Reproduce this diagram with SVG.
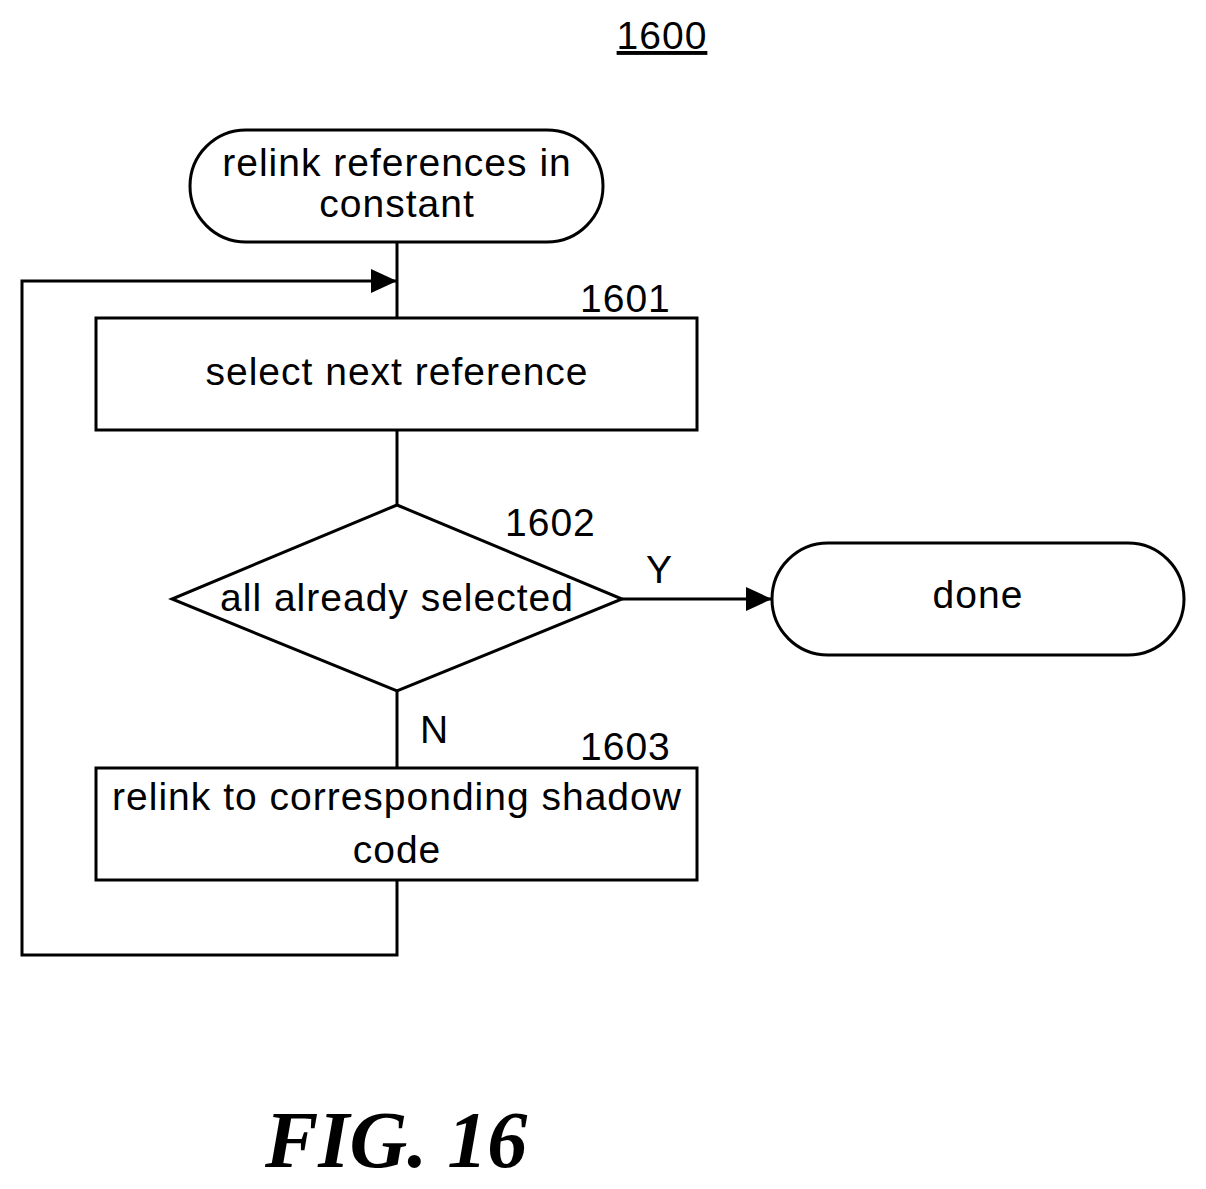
<svg xmlns="http://www.w3.org/2000/svg" width="1206" height="1189" viewBox="0 0 1206 1189">
<style>
.s{fill:#fff;stroke:#000;stroke-width:3}
.t{font-family:"Liberation Sans",Arial,sans-serif;font-size:39px;letter-spacing:1px;fill:#000}
.c{text-anchor:middle}
.l{fill:none;stroke:#000;stroke-width:3}
</style>
<defs><marker id="b" markerWidth="26" markerHeight="24" refX="26" refY="12" orient="auto" markerUnits="userSpaceOnUse"><path d="M0,0 L26,12 L0,24 z" fill="#000"/></marker></defs>
<rect width="1206" height="1189" fill="#fff"/>
<text class="t c" x="662" y="49" text-decoration="underline">1600</text>
<g id="connectors">
<path class="l" d="M397,242 V318"/>
<path class="l" d="M397,880 V955 H22 V281 H397" marker-end="url(#b)"/>
<path class="l" d="M397,430 V505"/>
<path class="l" d="M622,599 H772" marker-end="url(#b)"/>
<path class="l" d="M397,691 V768"/>
<text class="t" x="646" y="583">Y</text>
<text class="t" x="420" y="743">N</text>
</g>
<g id="start"><rect class="s" x="190" y="130" width="413" height="112" rx="56"/>
<text class="t c" x="397" y="176">relink references in</text><text class="t c" x="397" y="217">constant</text></g>
<g id="n1601"><rect class="s" x="96" y="318" width="601" height="112"/>
<text class="t c" x="397" y="385">select next reference</text><text class="t" x="580" y="312">1601</text></g>
<g id="n1602"><path class="s" d="M397,505 L622,599 L397,691 L172,599 z"/>
<text class="t c" x="397" y="611">all already selected</text><text class="t" x="505" y="536">1602</text></g>
<g id="done"><rect class="s" x="772" y="543" width="412" height="112" rx="56"/>
<text class="t c" x="978" y="608">done</text></g>
<g id="n1603"><rect class="s" x="96" y="768" width="601" height="112"/>
<text class="t c" x="397" y="810">relink to corresponding shadow</text><text class="t c" x="397" y="863">code</text><text class="t" x="580" y="760">1603</text></g>
<text x="265" y="1167" font-family="'Liberation Serif','Times New Roman',serif" font-size="80" font-weight="bold" font-style="italic">FIG. 16</text>
</svg>
